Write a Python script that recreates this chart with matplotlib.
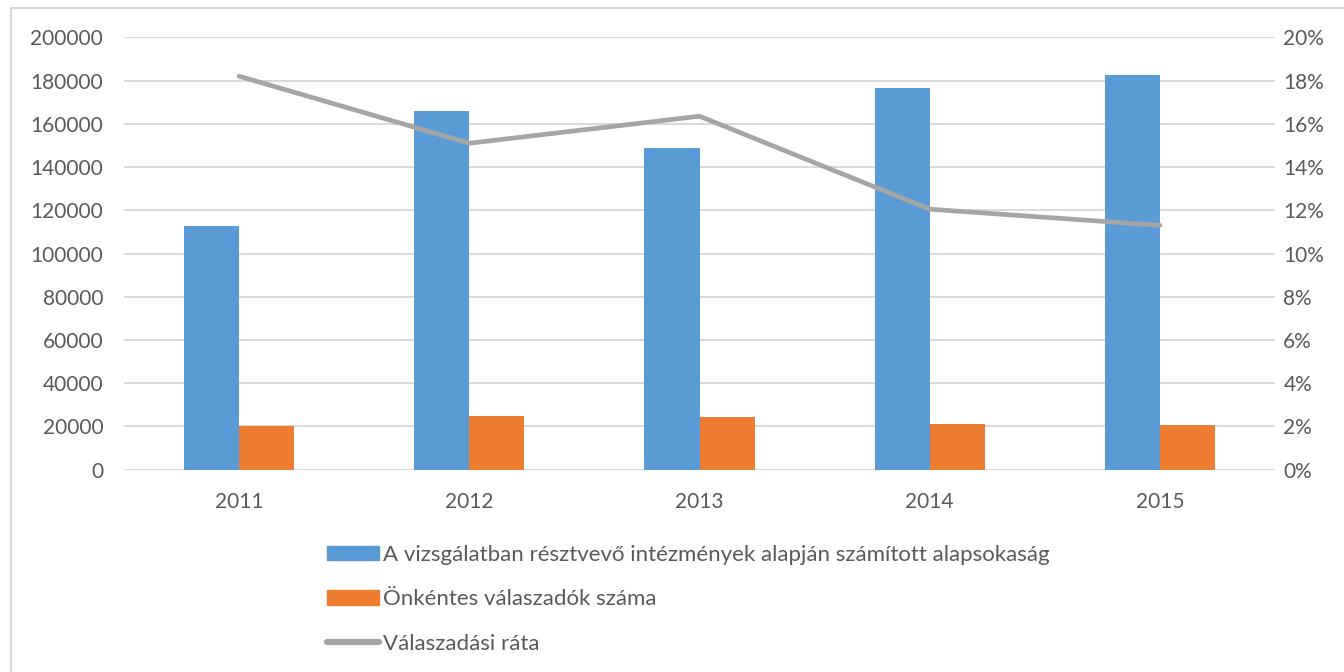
import numpy as np
import matplotlib.pyplot as plt
from matplotlib.lines import Line2D
from matplotlib.ticker import PercentFormatter

# adatok (leolvasva az ábráról)
evek = ['2011', '2012', '2013', '2014', '2015']
alapsokasag = [112600, 165700, 148800, 176500, 182500]
valaszadok = [20400, 25000, 24300, 21200, 20600]
rata = [18.2, 15.1, 16.35, 12.05, 11.3]

lbl_alap = 'A vizsgálatban résztvevő intézmények alapján számított alapsokaság'
lbl_val = 'Önkéntes válaszadók száma'
lbl_rata = 'Válaszadási ráta'

kek = '#5B9BD5'
narancs = '#ED7D31'
szurke = '#A5A5A5'
szoveg = '#595959'

plt.rcParams['font.family'] = ['Lato', 'DejaVu Sans']

fig = plt.figure(figsize=(13.44, 6.72), dpi=100)
ax = fig.add_axes([124 / 1344, 1 - 469.7 / 672, 1151 / 1344, 432.4 / 672])
ax2 = ax.twinx()

x = np.arange(len(evek))
w = 0.239
ax.bar(x - w / 2, alapsokasag, w, color=kek, zorder=3)
ax.bar(x + w / 2, valaszadok, w, color=narancs, zorder=3)
ax2.plot(x, rata, color=szurke, lw=3.4, solid_capstyle='round', zorder=4)

ax.set_xlim(-0.5, 4.5)
ax.set_ylim(0, 200000)
ax.set_yticks(np.arange(0, 200001, 20000))
ax2.set_ylim(0, 20)
ax2.set_yticks(np.arange(0, 21, 2))
ax2.yaxis.set_major_formatter(PercentFormatter(decimals=0))
ax.set_xticks(x)
ax.set_xticklabels(evek)

ax.grid(axis='y', color='#D9D9D9', lw=1.4, zorder=0)
ax.set_axisbelow(True)
for a in (ax, ax2):
    for s in a.spines.values():
        s.set_visible(False)
    a.tick_params(length=0, labelsize=15, colors=szoveg)
ax.tick_params(axis='y', pad=15)
ax.tick_params(axis='x', pad=16)
ax2.tick_params(axis='y', pad=6)
ax2.set_zorder(ax.get_zorder() + 1)
ax2.patch.set_visible(False)

handles = [
    plt.Rectangle((0, 0), 1, 1, color=kek),
    plt.Rectangle((0, 0), 1, 1, color=narancs),
    Line2D([0], [0], color=szurke, lw=4.5, solid_capstyle='round'),
]
fig.legend(handles, [lbl_alap, lbl_val, lbl_rata], loc='upper left',
           bbox_to_anchor=(327 / 1344, 1 - 545 / 672), frameon=False,
           borderpad=0, borderaxespad=0,
           prop={'size': 16}, labelcolor=szoveg,
           handlelength=2.35, handleheight=0.63,
           handletextpad=0.15, labelspacing=1.1)

# diagram kerete
fig.add_artist(Line2D([11 / 1344, 11 / 1344], [0, 1 - 8 / 672], color='#D9D9D9', lw=1.5))
fig.add_artist(Line2D([11 / 1344, 1], [1 - 8 / 672, 1 - 8 / 672], color='#D9D9D9', lw=1.5))

fig.savefig('out.png', dpi=100, facecolor='white')
